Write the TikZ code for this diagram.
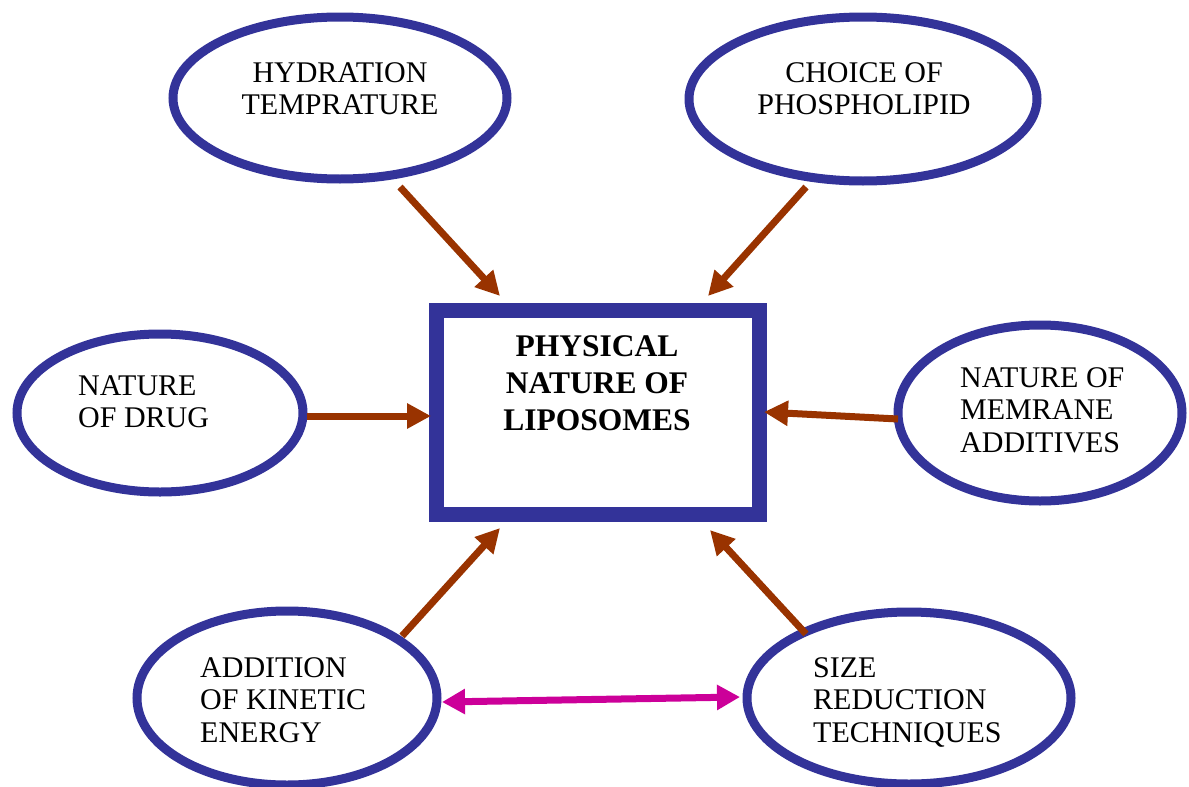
\documentclass[tikz,border=0pt]{standalone}
\usepackage{fontspec}
\setmainfont{Liberation Serif}
\usetikzlibrary{shapes.geometric,arrows.meta}
\definecolor{ringblue}{HTML}{333399}
\definecolor{arrowbrown}{HTML}{993300}
\definecolor{linkpink}{HTML}{CC0099}
\tikzset{
  ring/.style={ellipse,draw=ringblue,line width=9pt,inner sep=0pt,fill=white},
  centrebox/.style={rectangle,draw=ringblue,line width=15pt,inner sep=0pt,fill=white},
  lbl/.style={inner sep=0pt,font=\fontsize{30}{32.5}\selectfont},
  ttl/.style={inner sep=0pt,align=center,font=\fontsize{31.5}{37}\selectfont\bfseries},
  arr/.style={draw=arrowbrown,line width=7pt,-{Triangle[length=24pt,width=24pt]}},
  dbl/.style={draw=linkpink,line width=7pt,{Triangle[length=23pt,width=24pt]}-{Triangle[length=23pt,width=24pt]}}
}
\begin{document}
\begin{tikzpicture}[x=1pt,y=-1pt]
\useasboundingbox (0,0) rectangle (1189,787);
% nodes
\node[ring,minimum width=334pt,minimum height=162pt] (hyd) at (340,98) {};
\node[ring,minimum width=348pt,minimum height=164pt] (cho) at (863,99) {};
\node[ring,minimum width=286pt,minimum height=158pt] (drg) at (160,413) {};
\node[ring,minimum width=284pt,minimum height=176pt] (mem) at (1040,413) {};
\node[ring,minimum width=300pt,minimum height=174pt] (kin) at (287,698) {};
\node[ring,minimum width=324pt,minimum height=172pt] (siz) at (909,698) {};
\node[centrebox,minimum width=323pt,minimum height=204pt] (box) at (597.5,412) {};
% texts
\node[lbl,align=center,anchor=north] (thyd) at (340,62) {HYDRATION\\TEMPRATURE};
\node[lbl,align=center,anchor=north] (tcho) at (864,62) {CHOICE OF\\PHOSPHOLIPID};
\node[lbl,align=left,anchor=north west] (tdrg) at (78,375) {NATURE\\OF DRUG};
\node[lbl,align=left,anchor=north west] (tmem) at (960,367) {NATURE OF\\MEMRANE\\ADDITIVES};
\node[lbl,align=left,anchor=north west] (tkin) at (200,657) {ADDITION\\OF KINETIC\\ENERGY};
\node[lbl,align=left,anchor=north west] (tsiz) at (813,657) {SIZE\\REDUCTION\\TECHNIQUES};
\node[ttl,anchor=north] (tbox) at (597,335) {PHYSICAL\\NATURE OF\\LIPOSOMES};
% connector ends
\coordinate (a1s) at (400,187); \coordinate (a1e) at (500,296);
\coordinate (a2s) at (806,187); \coordinate (a2e) at (708,296);
\coordinate (a3s) at (307,416); \coordinate (a3e) at (431,416);
\coordinate (a4s) at (898,419); \coordinate (a4e) at (764,412);
\coordinate (a5s) at (402,636); \coordinate (a5e) at (500,528);
\coordinate (a6s) at (806,634); \coordinate (a6e) at (710,530);
\coordinate (bs) at (442,702); \coordinate (be) at (740,697);
% connectors
\draw[arr] (a1s) -- (a1e);
\draw[arr] (a2s) -- (a2e);
\draw[arr] (a3s) -- (a3e);
\draw[arr] (a4s) -- (a4e);
\draw[arr] (a5s) -- (a5e);
\draw[arr] (a6s) -- (a6e);
\draw[dbl] (bs) -- (be);
\end{tikzpicture}
\end{document}
